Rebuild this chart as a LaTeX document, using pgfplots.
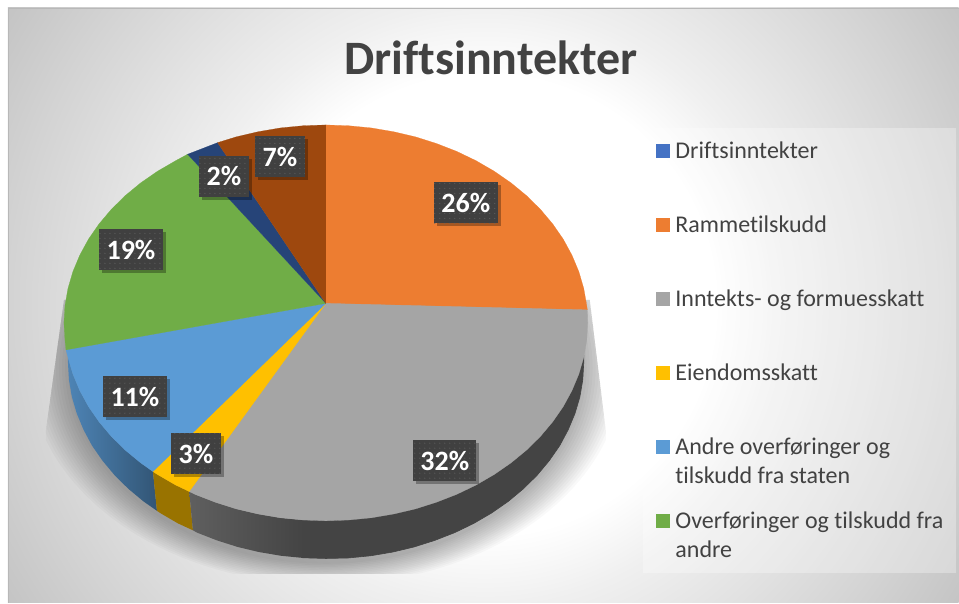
\documentclass[border=0pt]{standalone}
\usepackage{fontspec}
\setmainfont{Carlito}[Ligatures=CommonOff]
\usepackage{pgfplots}
\pgfplotsset{compat=1.18}
\usetikzlibrary{patterns.meta,shadows}
\pgfdeclareradialshading{bgshade}{\pgfpoint{0bp}{0bp}}{color(0bp)=(white); color(9bp)=(white); color(11.7bp)=(white!94!black); color(18.4bp)=(white!83!black); color(21.9bp)=(white!77!black); color(25bp)=(white!72!black); color(50bp)=(white!72!black)}
\definecolor{cOrange}{HTML}{ED7D31}
\definecolor{cGray}{HTML}{A5A5A5}
\definecolor{cYellow}{HTML}{FFC000}
\definecolor{cBlue}{HTML}{5B9BD5}
\definecolor{cGreen}{HTML}{70AD47}
\definecolor{cNavy}{HTML}{264478}
\definecolor{cBrown}{HTML}{9E480E}
\definecolor{cLegBlue}{HTML}{4472C4}
\definecolor{cText}{HTML}{424242}
\definecolor{cBox}{HTML}{404040}
\definecolor{wL}{HTML}{5F5F5F}
\definecolor{wR}{HTML}{444444}
\definecolor{wF}{HTML}{444444}
\tikzset{
  lab/.style={minimum height=41pt,inner sep=0pt,text=white,
    font=\fontsize{28}{30}\selectfont\bfseries,
    drop shadow={shadow xshift=3pt,shadow yshift=-3pt,opacity=.3,fill=black},
    preaction={fill=cBox},
    pattern={Dots[radius=0.55pt,distance=5pt]},pattern color=white!20!cBox},
  leg/.style={anchor=base west,inner sep=0pt,text=cText,font=\fontsize{24}{28}\selectfont}
}
\newcommand{\sw}[2]{\fill[#1] (axis cs:656,#2-14) rectangle (axis cs:670,#2);}
\newcommand{\lb}[1]{\raisebox{-1pt}{#1}}
\begin{document}
\begin{tikzpicture}
\begin{scope}[x=1pt,y=-1pt,shift={(0,603pt)}]
  \path (0,0) rectangle (959,603);
  \begin{scope}
    \clip (8,8) rectangle (959,603);
    \shade[shading=bgshade] (485,305) circle[radius=640];
  \end{scope}
  \draw[white!72!black,line width=.8pt] (8,603) -- (8,8) -- (959,8);
  \begin{scope}
    \clip (64,300) -- (46,430) -- (46,574) -- (606,574) -- (606,430) -- (590,300) -- cycle;
    \foreach \i in {0,...,13} {
      \pgfmathsetmacro{\rx}{258+3*\i}
      \pgfmathsetmacro{\ry}{196+1.6*\i}
      \fill[black,opacity=.022] (326,368) ellipse[x radius=\rx,y radius=\ry];
    }
  \end{scope}
  \fill[white,opacity=.3] (643,128) rectangle (956,573);
\end{scope}
\begin{axis}[
  at={(0,0)},anchor=south west,
  width=959pt,height=603pt,scale only axis,
  xmin=0,xmax=959,ymin=0,ymax=603,y dir=reverse,
  hide axis,clip=false]
% side walls
\addplot[draw=none,left color=cBlue!85!black,right color=cBlue!55!black,forget plot] coordinates {
 (68,357.4)(72.9,374.2)(79.8,390.7)(88.5,406.7)(99.1,422)(111.4,436.6)(125.3,450.3)(140.7,463)(153,471.7)
 (157,511)(143.5,501.6)(128.4,489)(114.7,475.5)(102.6,461)(92.1,445.9)(83.6,430)(76.8,413.7)(71.9,397.1)(69,380.1)(68,363)} --cycle;
\addplot[draw=none,fill=cYellow!60!black,forget plot] coordinates {
 (153,471.7)(157.6,474.7)(175.7,485.2)(189.3,491.7)(193,530.5)(178,523.6)(160.2,513.2)(157,511)} --cycle;
\addplot[draw=none,left color=wL,right color=wR,forget plot] coordinates {
 (189.3,491.7)(195,494.5)(215.3,502.4)(236.4,509.1)(258.2,514.2)(280.5,518)(303.2,520.2)
 (303.5,558.2)(281.2,556)(259.2,552.3)(237.8,547.2)(217,540.6)(197,532.8)(193,530.5)} --cycle;
\addplot[draw=wF,line width=.6pt,fill=wF,forget plot] coordinates {
 (302.6,520.2)(326,521)(348.8,520.2)(371.5,518)(393.8,514.2)(415.6,509.1)(436.7,502.4)(457,494.5)(476.3,485.2)(494.4,474.7)(511.3,463)(526.7,450.3)(540.6,436.6)(552.9,422)(563.5,406.7)(572.2,390.7)(579.1,374.2)(584,357.4)
 (584,363)(583,380.1)(580.1,397.1)(575.2,413.7)(568.4,430)(559.9,445.9)(549.4,461)(537.3,475.5)(523.6,489)(508.5,501.6)(491.8,513.2)(474,523.6)(455,532.8)(435,540.6)(414.2,547.2)(392.8,552.3)(370.8,556)(348.5,558.2)(326,558.7)(302.9,558)} --cycle;
% top surface: Rammetilskudd 26
\addplot[draw=cOrange,fill=cOrange,line width=.2pt,forget plot] coordinates {
 (326,303.5)(587.6,310)(587,305.7)(584,288.6)(579.1,271.8)(572.2,255.3)(563.5,239.3)(552.9,224)(540.6,209.4)(526.7,195.7)(511.3,183)(494.4,171.3)(476.3,160.8)(457,151.5)(436.7,143.6)(415.6,136.9)(393.8,131.8)(371.5,128)(348.8,125.8)(326,125)} --cycle;
% Inntekts- og formuesskatt 32
\addplot[draw=cGray,fill=cGray,line width=.2pt,forget plot] coordinates {
 (326,303.5)(189.3,491.7)(195,494.5)(215.3,502.4)(236.4,509.1)(258.2,514.2)(280.5,518)(303.2,520.2)(326,521)(348.8,520.2)(371.5,518)(393.8,514.2)(415.6,509.1)(436.7,502.4)(457,494.5)(476.3,485.2)(494.4,474.7)(511.3,463)(526.7,450.3)(540.6,436.6)(552.9,422)(563.5,406.7)(572.2,390.7)(579.1,374.2)(584,357.4)(587,340.3)(588,323)(587.6,310)} --cycle;
% Eiendomsskatt 3
\addplot[draw=cYellow,fill=cYellow,line width=.2pt,forget plot] coordinates {
 (326,303.5)(153,471.7)(157.6,474.7)(175.7,485.2)(189.3,491.7)} --cycle;
% Andre overforinger 11
\addplot[draw=cBlue,fill=cBlue,line width=.2pt,forget plot] coordinates {
 (326,303.5)(66,350)(68,357.4)(72.9,374.2)(79.8,390.7)(88.5,406.7)(99.1,422)(111.4,436.6)(125.3,450.3)(140.7,463)(153,471.7)} --cycle;
% Overforinger fra andre 19
\addplot[draw=cGreen,fill=cGreen,line width=.2pt,forget plot] coordinates {
 (326,303.5)(187.7,154.3)(175.7,160.8)(157.6,171.3)(140.7,183)(125.3,195.7)(111.4,209.4)(99.1,224)(88.5,239.3)(79.8,255.3)(72.9,271.8)(68,288.6)(65,305.7)(64,323)(65,340.3)(66,350)} --cycle;
% Driftsinntekter 2
\addplot[draw=cNavy,fill=cNavy,line width=.2pt,forget plot] coordinates {
 (326,303.5)(217.7,142.7)(195,151.5)(187.7,154.3)} --cycle;
% 7
\addplot[draw=cBrown,fill=cBrown,line width=.2pt,forget plot] coordinates {
 (326,303.5)(326,125)(303.2,125.8)(280.5,128)(258.2,131.8)(236.4,136.9)(217.7,142.7)} --cycle;
% data labels
\node[lab,minimum width=50pt] at (axis cs:280,157) {\lb{7\%}};
\node[lab,minimum width=50pt] at (axis cs:224,176.5) {\lb{2\%}};
\node[lab,minimum width=64pt] at (axis cs:131,250) {\lb{19\%}};
\node[lab,minimum width=64pt] at (axis cs:466,203) {\lb{26\%}};
\node[lab,minimum width=64pt] at (axis cs:135,397) {\lb{11\%}};
\node[lab,minimum width=50pt] at (axis cs:196,454) {\lb{3\%}};
\node[lab,minimum width=63pt] at (axis cs:445,461) {\lb{32\%}};
% title
\node[anchor=base,inner sep=0pt,text=cText,font=\fontsize{48}{54}\selectfont\bfseries] at (axis cs:491,75) {Driftsinntekter};
% legend
\sw{cLegBlue}{158}
\node[leg] at (axis cs:675.5,159) {Driftsinntekter};
\sw{cOrange}{232}
\node[leg] at (axis cs:675.5,233) {Rammetilskudd};
\sw{cGray}{306}
\node[leg] at (axis cs:675.5,307) {Inntekts- og formuesskatt};
\sw{cYellow}{380}
\node[leg] at (axis cs:675.5,381) {Eiendomsskatt};
\sw{cBlue}{454}
\node[leg] at (axis cs:675.5,455) {Andre overføringer og};
\node[leg] at (axis cs:675.5,484) {tilskudd fra staten};
\sw{cGreen}{528}
\node[leg] at (axis cs:675.5,529) {Overføringer og tilskudd fra};
\node[leg] at (axis cs:675.5,558) {andre};
\end{axis}
\end{tikzpicture}
\end{document}
